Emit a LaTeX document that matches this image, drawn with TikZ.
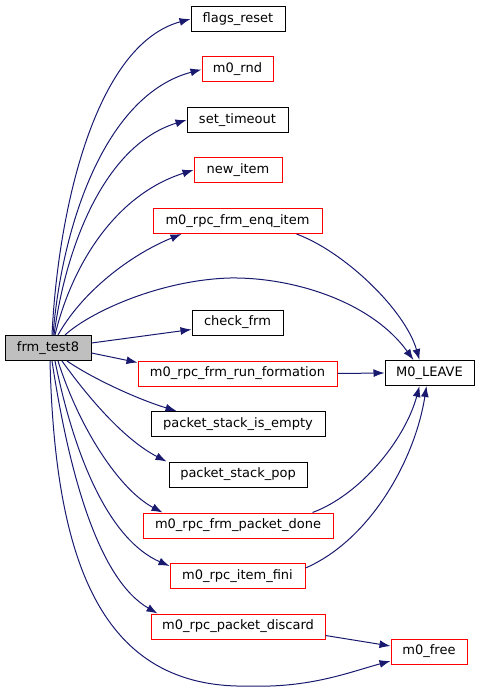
\documentclass[tikz,border=0pt]{standalone}
\usepackage{fontspec}
\setmainfont{DejaVu Sans}
\usetikzlibrary{arrows.meta}
\definecolor{edgeblue}{HTML}{191970}
\definecolor{nodered}{HTML}{FF0000}
\definecolor{rootgray}{HTML}{BFBFBF}
\tikzset{
  fn/.style={draw=black, line width=1pt, inner sep=0pt, minimum height=25pt, font=\fontsize{13}{15}\selectfont},
  fnred/.style={fn, draw=nodered},
  call/.style={draw=edgeblue, line width=1pt, -{Latex[length=11pt,width=8pt]}},
}
\begin{document}
\begin{tikzpicture}[x=1pt,y=-1pt]
\useasboundingbox (0,0) rectangle (479,692);
\node[fn, fill=rootgray, minimum width=86pt] (f) at (48,348) {frm\_test8};
\node[fn, minimum width=94pt] (fr) at (238,19) {flags\_reset};
\node[fnred, minimum width=71pt] (rnd) at (237.5,69.5) {m0\_rnd};
\node[fn, minimum width=101pt] (st) at (237.5,120) {set\_timeout};
\node[fnred, minimum width=88pt] (ni) at (238,170) {new\_item};
\node[fnred, minimum width=169pt] (enq) at (237.5,221) {m0\_rpc\_frm\_enq\_item};
\node[fn, minimum width=91pt] (chk) at (237.5,322.5) {check\_frm};
\node[fnred, minimum width=199pt] (rf) at (237.5,373.5) {m0\_rpc\_frm\_run\_formation};
\node[fn, minimum width=174pt] (ie) at (238,424) {packet\_stack\_is\_empty};
\node[fn, minimum width=138pt] (pop) at (238,474.5) {packet\_stack\_pop};
\node[fnred, minimum width=190pt] (pd) at (238,525.5) {m0\_rpc\_frm\_packet\_done};
\node[fnred, minimum width=135pt] (ifi) at (237.5,576) {m0\_rpc\_item\_fini};
\node[fn, draw=nodered, minimum width=174pt] (dc) at (238,626.5) {m0\_rpc\_packet\_discard};
\node[fn, minimum width=89pt] (ml) at (429.5,373) {M0\_LEAVE};
\node[fnred, minimum width=76pt] (mf) at (429,651.5) {m0\_free};

% upper edges
\draw[call] ([xshift=4pt]f.north) .. controls (58,210) and (95,45) .. (fr.west);
\draw[call] ([xshift=5pt]f.north) .. controls (62,225) and (105,95) .. (rnd.west);
\draw[call] ([xshift=6pt]f.north) .. controls (66,245) and (105,145) .. (st.west);
\draw[call] ([xshift=7pt]f.north) .. controls (72,265) and (115,195) .. (ni.west);
\draw[call] ([xshift=10pt]f.north) .. controls (82,292) and (130,255) .. ([xshift=29pt]enq.south west);
\coordinate (arctop) at (230,278);
\draw[call] ([xshift=17pt]f.north) .. controls (90,312) and (160,280) .. (arctop)
  .. controls (290,277) and (370,300) .. ([xshift=29pt]ml.north west);
\draw[call] ([xshift=144pt]enq.south west) .. controls (345,252) and (405,310) .. ([xshift=35pt]ml.north west);
% side edges
\draw[call] ([yshift=5pt]f.east) -- ([yshift=-7pt]chk.west);
\draw[call] ([yshift=-5pt]f.east) -- ([yshift=-2pt]rf.north west);
\draw[call] (rf.east) -- (ml.west);
% lower edges
\draw[call] ([xshift=19pt]f.south) .. controls (95,380) and (140,400) .. ([xshift=26pt]ie.north west);
\draw[call] ([xshift=14pt]f.south) .. controls (90,400) and (125,440) .. ([xshift=-2pt]pop.north west);
\draw[call] ([xshift=10pt]f.south) .. controls (80,430) and (120,490) .. ([xshift=20pt]pd.north west);
\draw[call] ([xshift=7pt]f.south) .. controls (75,460) and (110,540) .. ([yshift=-3pt]ifi.north west);
\draw[call] ([xshift=4pt]f.south) .. controls (70,480) and (100,580) .. ([xshift=7pt]dc.north west);
\coordinate (arcbot) at (250,686);
\draw[call] ([xshift=2pt]f.south) .. controls (55,560) and (100,690) .. (arcbot)
  .. controls (310,688) and (350,672) .. ([yshift=3.5pt]mf.south west);
\draw[call] ([xshift=170pt]pd.north west) .. controls (360,495) and (405,440) .. ([xshift=35pt]ml.south west);
\draw[call] ([yshift=8pt]ifi.east) .. controls (370,540) and (415,460) .. ([xshift=42pt]ml.south west);
\draw[call] ([yshift=-9pt]dc.east) -- ([yshift=5.5pt]mf.west);
\end{tikzpicture}
\end{document}
